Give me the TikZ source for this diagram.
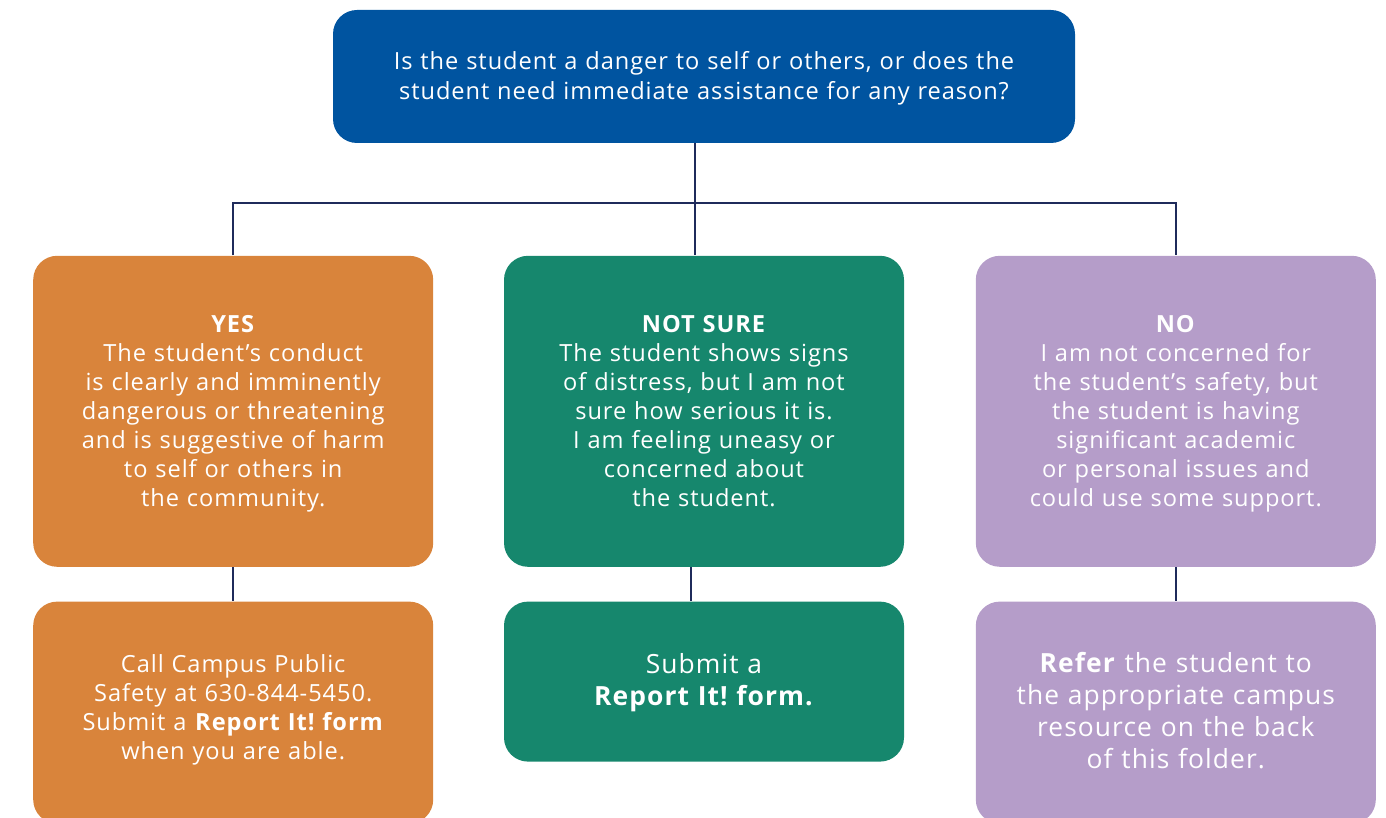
\documentclass[tikz,border=0pt]{standalone}
\usepackage{fontspec}
\setmainfont{Open Sans}[LetterSpace=4]
\usetikzlibrary{positioning,calc}

\definecolor{askblue}{HTML}{0054A0}
\definecolor{yesorange}{HTML}{D9843B}
\definecolor{unsuregreen}{HTML}{16876D}
\definecolor{nopurple}{HTML}{B59DC9}
\definecolor{linknavy}{HTML}{1F2B5B}

% taller strut, pushes the text block a little down in its box
\newcommand\highstrut{\rule{0pt}{12.5pt}}
% deeper strut, lifts the text block a little up in its box
\newcommand\deepstrut{\rule[-9.35pt]{0pt}{1pt}}

\begin{document}
\begin{tikzpicture}[
    box/.style={
        rectangle,
        rounded corners=12pt,
        minimum width=200pt,
        text width=190pt,
        align=center,
        text=white,
        inner sep=0pt,
        execute at begin node=\highstrut,
        execute at end node=\strut,
        font=\fontsize{11.8}{14.5}\selectfont\frenchspacing
    },
    question/.style={
        box,
        fill=askblue,
        minimum width=371pt,
        text width=360pt,
        minimum height=66.5pt,
        font=\fontsize{11.8}{15}\selectfont\frenchspacing
    },
    answer/.style={
        box,
        minimum height=155.5pt
    },
    action/.style={
        box,
        minimum height=111pt
    },
    bigaction/.style={
        action,
        font=\fontsize{13.2}{16}\selectfont\frenchspacing
    },
    link/.style={draw=linknavy, line width=1pt}
]

\useasboundingbox (0,0) rectangle (693pt,-409pt);

% ------------------------------------------------------------
% Question
% ------------------------------------------------------------

\node[question] (ask) at (352pt,-38.25pt)
    {Is the student a danger to self or others, or does the\\
     student need immediate assistance for any reason?};

% ------------------------------------------------------------
% Answers
% ------------------------------------------------------------

\node[answer, fill=unsuregreen, below=56pt of ask] (unsure)
    {\textbf{NOT SURE}\\
     The student shows signs\\
     of distress, but I am not\\
     sure how serious it is.\\
     I am feeling uneasy or\\
     concerned about\\
     the student.};

\node[answer, fill=yesorange, left=35pt of unsure] (yes)
    {\textbf{YES}\\
     The student's conduct\\
     is clearly and imminently\\
     dangerous or threatening\\
     and is suggestive of harm\\
     to self or others in\\
     the community.};

\node[answer, fill=nopurple, right=35.5pt of unsure] (no)
    {\textbf{NO}\\
     I am not concerned for\\
     the student's safety, but\\
     the student is having\\
     significant academic\\
     or personal issues and\\
     could use some support.};

% ------------------------------------------------------------
% Actions
% ------------------------------------------------------------

\node[action, fill=yesorange, execute at begin node=\relax,
      execute at end node=\deepstrut, below=17pt of yes] (yescall)
    {Call Campus Public\\
     Safety at 630-844-5450.\\
     Submit a \textbf{Report It! form}\\
     when you are able.};

\node[bigaction, fill=unsuregreen, minimum height=80pt, below=17pt of unsure] (unsuresubmit)
    {Submit a\\
     \textbf{Report It! form.}};

\node[bigaction, fill=nopurple, below=17pt of no] (norefer)
    {\textbf{Refer} the student to\\
     the appropriate campus\\
     resource on the back\\
     of this folder.};

% ------------------------------------------------------------
% Connectors
% ------------------------------------------------------------

\coordinate[below=30pt of ask.south, xshift=-4.5pt] (fork);

\draw[link] ([xshift=-4.5pt]ask.south) -- (fork);
\draw[link] (yes.north) |- (fork) -| (no.north);
\draw[link] (fork) -- (fork |- unsure.north);

\draw[link] (yes.south) -- (yescall.north);
\draw[link] ([xshift=-6.5pt]unsure.south) -- ([xshift=-6.5pt]unsuresubmit.north);
\draw[link] (no.south) -- (norefer.north);

\end{tikzpicture}
\end{document}
